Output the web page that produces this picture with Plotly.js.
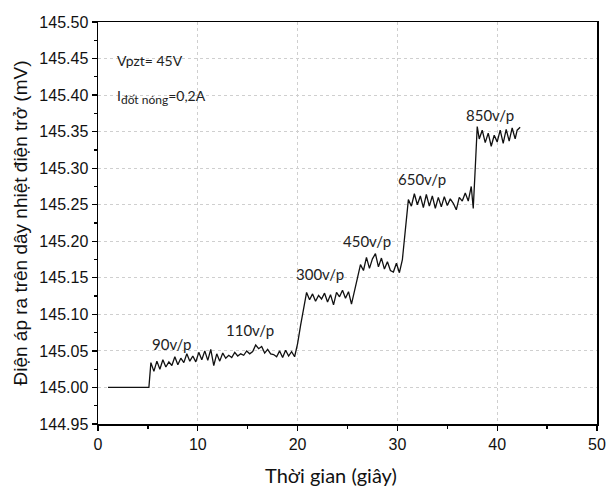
<!DOCTYPE html>
<html>
<head>
<meta charset="utf-8">
<script src="https://cdn.plot.ly/plotly-3.0.1.min.js"></script>
<style>html,body{margin:0;padding:0;background:#fff;}#chart{width:607px;height:491px;}</style>
</head>
<body>
<div id="chart"></div>
<script>
// Time (s)
const timeSec = [
  1.0, 2.0, 3.0, 4.0, 5.0, 5.1,
  5.3, 5.6, 5.9, 6.2, 6.5, 6.8, 7.1, 7.4, 7.7, 8.0, 8.3, 8.6, 8.9, 9.2, 9.5, 9.8,
  10.1, 10.4, 10.7, 11.0, 11.3, 11.6, 11.9, 12.2, 12.5, 12.8, 13.1, 13.4, 13.7, 14.0,
  14.3, 14.6, 14.9, 15.2, 15.5, 15.8, 16.1, 16.4, 16.7, 17.0, 17.3, 17.6, 17.9, 18.2,
  18.5, 18.8, 19.1, 19.4, 19.7,
  20.0, 20.3, 20.6, 20.9,
  21.2, 21.5, 21.8, 22.1, 22.4, 22.7, 23.0, 23.3, 23.6, 23.9, 24.2, 24.5, 24.8, 25.1, 25.4,
  25.7, 26.0, 26.3,
  26.6, 26.9, 27.2, 27.5, 27.8, 28.1, 28.4, 28.7, 29.0, 29.3, 29.6, 29.9, 30.2, 30.5,
  30.8, 31.1,
  31.4, 31.7, 32.0, 32.3, 32.6, 32.9, 33.2, 33.5, 33.8, 34.1, 34.4, 34.7, 35.0, 35.3,
  35.6, 35.9, 36.2, 36.5, 36.8, 37.1, 37.4, 37.6, 37.8, 38.0,
  38.2, 38.5, 38.8, 39.1, 39.4, 39.7, 40.0, 40.3, 40.6, 40.9, 41.2, 41.5, 41.8, 42.0, 42.3
];
// Voltage (mV)
const voltage = [
  145.000, 145.000, 145.000, 145.000, 145.000, 145.000,
  145.034, 145.022, 145.036, 145.025, 145.038, 145.028, 145.035, 145.030, 145.042, 145.031,
  145.040, 145.034, 145.046, 145.036, 145.043, 145.035,
  145.048, 145.038, 145.050, 145.037, 145.052, 145.030, 145.046, 145.036, 145.047, 145.040,
  145.044, 145.041, 145.048, 145.043,
  145.046, 145.044, 145.050, 145.046, 145.049, 145.058, 145.053, 145.056, 145.047, 145.052,
  145.046, 145.045, 145.042, 145.050,
  145.041, 145.051, 145.043, 145.049, 145.042,
  145.060, 145.085, 145.110, 145.130,
  145.120, 145.128, 145.118, 145.126, 145.121, 145.129, 145.117, 145.127, 145.113, 145.130,
  145.124, 145.133, 145.122, 145.131, 145.114,
  145.130, 145.150, 145.168,
  145.160, 145.178, 145.163, 145.176, 145.183, 145.165, 145.177, 145.162, 145.172, 145.160,
  145.158, 145.170, 145.157, 145.175,
  145.215, 145.257,
  145.248, 145.265, 145.250, 145.262, 145.246, 145.264, 145.248, 145.262, 145.245, 145.260,
  145.247, 145.261, 145.249, 145.258,
  145.252, 145.243, 145.260, 145.255, 145.266, 145.255, 145.275, 145.245, 145.300, 145.357,
  145.340, 145.352, 145.335, 145.348, 145.330, 145.345, 145.336, 145.352, 145.334, 145.353,
  145.337, 145.355, 145.340, 145.352, 145.356
];
// Speed labels and their anchor positions (data coordinates)
const speedLabels = ["90v/p", "110v/p", "300v/p", "450v/p", "650v/p", "850v/p"];
const labelTime   = [7.4, 15.2, 22.2, 27.0, 32.5, 39.3];
const labelVolt   = [145.060, 145.078, 145.155, 145.200, 145.285, 145.373];

const noteTexts = ["Vpzt= 45V", "I<sub><span style='font-size:12px'>đốt nóng</span></sub>=0,2A"];
const noteTime  = [1.7, 1.7];
const noteVolt  = [145.447, 145.398];

const xTitle = "Thời gian (giây)";
const yTitle = "Điện áp ra trên dây nhiệt điện trở (mV)";

const labelFont = {family: "Lato, 'Open Sans', sans-serif", size: 15, color: "#222"};

const annotations = speedLabels.map((s, i) => ({
  x: labelTime[i], y: labelVolt[i], xref: "x", yref: "y", text: s,
  showarrow: false, xanchor: "center", yanchor: "middle", font: labelFont
})).concat(noteTexts.map((s, i) => ({
  x: noteTime[i], y: noteVolt[i], xref: "x", yref: "y", text: s,
  showarrow: false, xanchor: "left", yanchor: "middle",
  font: {family: "Lato, 'Open Sans', sans-serif", size: 14, color: "#222"}
}))).concat([{
  x: 0.467, y: -0.127, xref: "paper", yref: "paper", text: xTitle,
  showarrow: false, xanchor: "center", yanchor: "middle",
  font: {family: "Lato, 'Open Sans', sans-serif", size: 20, color: "#111"}
}]);

const trace = {
  x: timeSec, y: voltage, type: "scatter", mode: "lines",
  line: {color: "#111", width: 1.3}, hoverinfo: "skip"
};

const layout = {
  width: 607, height: 491,
  margin: {l: 98, r: 10, t: 22, b: 67},
  paper_bgcolor: "#fff", plot_bgcolor: "#fff",
  showlegend: false,
  xaxis: {
    range: [0, 50], tick0: 0, dtick: 10,
    showline: true, linecolor: "#000", linewidth: 1.5, mirror: true,
    ticks: "outside", ticklen: 5, tickwidth: 1.2, tickcolor: "#000",
    minor: {dtick: 5, ticks: "outside", ticklen: 3, tickcolor: "#000", showgrid: false},
    showgrid: true, gridcolor: "#cfcfcf", griddash: "dot", gridwidth: 1,
    zeroline: false,
    tickfont: {family: "'Liberation Sans', Arial, sans-serif", size: 16, color: "#111"}
  },
  yaxis: {
    range: [144.95, 145.50], tick0: 144.95, dtick: 0.05, tickformat: ".2f",
    showline: true, linecolor: "#000", linewidth: 1.5, mirror: true,
    ticks: "outside", ticklen: 5, tickwidth: 1.2, tickcolor: "#000",
    minor: {dtick: 0.025, ticks: "outside", ticklen: 3, tickcolor: "#000", showgrid: false},
    showgrid: true, gridcolor: "#cfcfcf", griddash: "dot", gridwidth: 1,
    zeroline: false,
    tickfont: {family: "'Liberation Sans', Arial, sans-serif", size: 16, color: "#111"},
    title: {text: yTitle, standoff: 6,
            font: {family: "'Liberation Sans', Arial, sans-serif", size: 19, color: "#111"}}
  },
  annotations: annotations
};

Plotly.newPlot("chart", [trace], layout, {displayModeBar: false, staticPlot: true});
</script>
</body>
</html>
